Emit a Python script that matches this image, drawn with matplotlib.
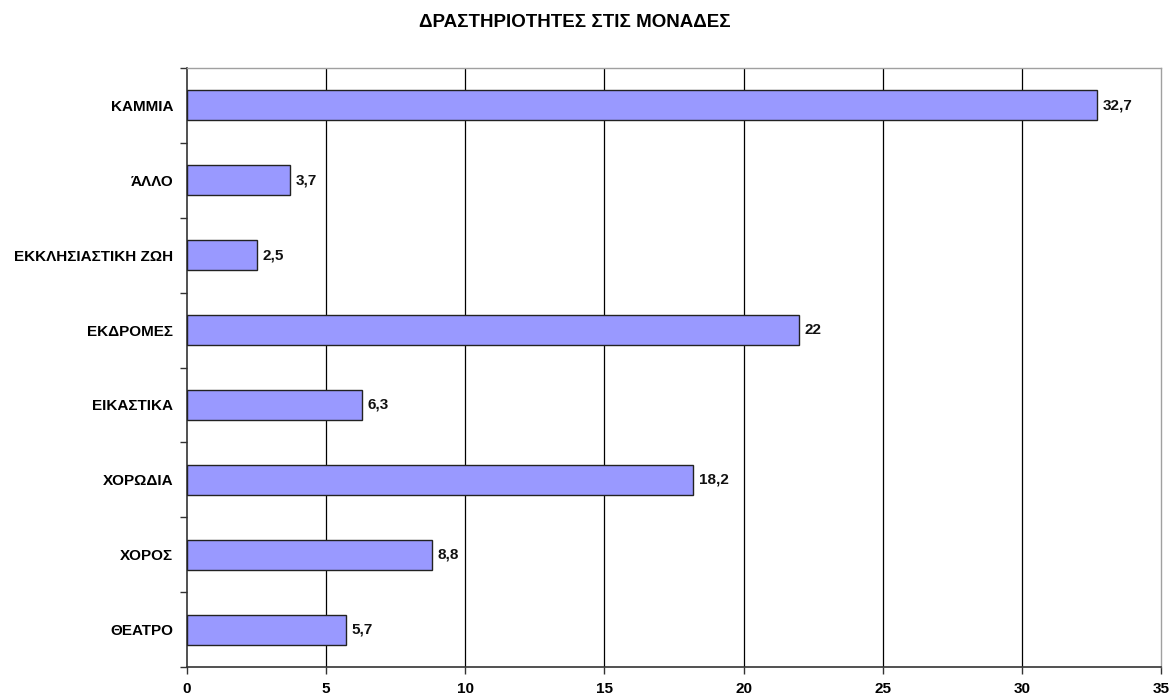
import matplotlib
matplotlib.use("Agg")
import matplotlib.pyplot as plt
from matplotlib.ticker import FixedLocator

plt.rcParams["font.family"] = ["Liberation Sans", "DejaVu Sans"]

categories = ["ΘΕΑΤΡΟ", "ΧΟΡΟΣ", "ΧΟΡΩΔΙΑ", "ΕΙΚΑΣΤΙΚΑ", "ΕΚΔΡΟΜΕΣ",
              "ΕΚΚΛΗΣΙΑΣΤΙΚΗ ΖΩΗ", "ΆΛΛΟ", "ΚΑΜΜΙΑ"]
values = [5.7, 8.8, 18.2, 6.3, 22, 2.5, 3.7, 32.7]
x_ticks = [0, 5, 10, 15, 20, 25, 30, 35]

BAR, EDGE, GRID, FRAME = "#9999ff", "#222222", "#000000", "#a0a0a0"
FS = 11

fig = plt.figure(figsize=(11.7, 6.97), dpi=100)
ax = fig.add_axes([0.1598, 0.043, 0.8325, 0.8594])

ys = list(range(len(categories)))
ax.barh(ys, values, height=0.4, color=BAR, edgecolor=EDGE, linewidth=1.0, zorder=3)
for y, v in zip(ys, values):
    lbl = ("%g" % v).replace(".", ",")
    ax.text(v + 0.2, y, lbl, ha="left", va="center", fontsize=FS,
            fontweight="bold", color="#111111", zorder=4)

ax.set_xlim(0, 35)
ax.set_ylim(-0.5, len(categories) - 0.5)
ax.set_xticks(x_ticks)
ax.set_xticklabels([str(t) for t in x_ticks], fontsize=FS, fontweight="bold")
ax.tick_params(axis="x", length=5, width=1, color="#333333", pad=6)
ax.set_yticks(ys)
ax.set_yticklabels(categories, fontsize=FS, fontweight="bold")
ax.tick_params(axis="y", length=0, pad=10)
ax.yaxis.set_minor_locator(FixedLocator([i - 0.5 for i in range(len(categories) + 1)]))
ax.tick_params(axis="y", which="minor", length=5, width=1, color="#333333")

for t in x_ticks[1:-1]:
    ax.axvline(t, color=GRID, lw=0.9, zorder=1)

for s in ("top", "right"):
    ax.spines[s].set_color(FRAME)
    ax.spines[s].set_linewidth(1)
for s in ("left", "bottom"):
    ax.spines[s].set_color("#333333")
    ax.spines[s].set_linewidth(1.2)

fig.text(0.491, 0.968, "ΔΡΑΣΤΗΡΙΟΤΗΤΕΣ ΣΤΙΣ ΜΟΝΑΔΕΣ", ha="center", va="center",
         fontsize=13.5, fontweight="bold")

fig.savefig("out.png", dpi=100)
